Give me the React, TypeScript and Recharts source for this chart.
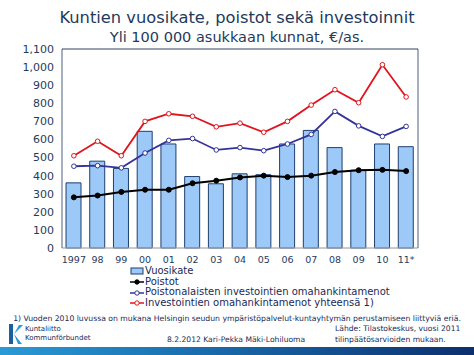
import {
  Bar,
  CartesianGrid,
  ComposedChart,
  Line,
  ReferenceLine,
  XAxis,
  YAxis,
} from "recharts";

const years = ["1997", "98", "99", "00", "01", "02", "03", "04", "05", "06", "07", "08", "09", "10", "11*"];
const vuosikate = [360, 480, 440, 645, 575, 395, 355, 410, 405, 575, 650, 555, 430, 575, 560];
const poistot = [280, 290, 310, 322, 322, 358, 372, 390, 400, 392, 400, 420, 430, 432, 425];
const poistonalaiset = [452, 455, 443, 525, 595, 605, 542, 555, 538, 575, 628, 755, 675, 617, 672];
const investoinnit = [510, 590, 510, 700, 742, 728, 670, 690, 640, 700, 790, 875, 803, 1013, 835];
const yTicks = [0, 100, 200, 300, 400, 500, 600, 700, 800, 900, 1000, 1100];

const data = years.map((year, i) => ({
  year,
  vuosikate: vuosikate[i],
  poistot: poistot[i],
  poistonalaiset: poistonalaiset[i],
  investoinnit: investoinnit[i],
}));

const FONT = '"DejaVu Sans", Verdana, sans-serif';
const NAVY = "#1f3a5c";
const TEXT = "#1a2a55";
const AXIS = "#4a5f80";
const BAR_FILL = "#9cc9f7";
const BAR_STROKE = "#1f3f6e";
const BLUE = "#333399";
const RED = "#e0141e";

function LegendRow({ kind, color, label }: { kind: "bar" | "dot" | "open"; color: string; label: string }) {
  return (
    <div style={{ display: "flex", alignItems: "center", height: 10.7 }}>
      <svg width={14} height={10} style={{ marginRight: 1 }}>
        {kind === "bar" ? (
          <rect x={1} y={2} width={12} height={6} fill={BAR_FILL} stroke={BAR_STROKE} />
        ) : (
          <>
            <line x1={0} x2={14} y1={5} y2={5} stroke={color} strokeWidth={1.5} />
            <circle cx={7} cy={5} r={2.2} fill={kind === "dot" ? color : "#fff"} stroke={color} />
          </>
        )}
      </svg>
      <span>{label}</span>
    </div>
  );
}

export default function App() {
  const tick = { fill: NAVY, fontSize: 11, fontFamily: FONT };
  return (
    <div
      style={{
        position: "absolute",
        left: 0,
        top: 0,
        width: 474,
        height: 355,
        background: "#fff",
        fontFamily: FONT,
        color: NAVY,
        overflow: "hidden",
      }}
    >
      <div style={{ position: "absolute", top: 8, width: 474, textAlign: "center", fontSize: 16.3, lineHeight: "19px" }}>
        Kuntien vuosikate, poistot sekä investoinnit
      </div>
      <div style={{ position: "absolute", top: 28, width: 474, textAlign: "center", fontSize: 14.5, lineHeight: "18px" }}>
        Yli 100 000 asukkaan kunnat, €/as.
      </div>

      <div style={{ position: "absolute", left: 0, top: 0 }}>
        <ComposedChart
          width={474}
          height={270}
          data={data}
          margin={{ top: 49, right: 0, left: 0, bottom: 0 }}
          barCategoryGap={0}
        >
          <CartesianGrid vertical={false} stroke="#c8c8c8" />
          <XAxis
            dataKey="year"
            height={22}
            tick={{ ...tick, fontSize: 9.5 }}
            tickLine={false}
            axisLine={{ stroke: "#b0b0b0" }}
            interval={0}
          />
          <YAxis
            yAxisId="left"
            width={62}
            domain={[0, 1100]}
            ticks={yTicks}
            tick={tick}
            tickLine={false}
            axisLine={{ stroke: AXIS }}
            tickFormatter={(v: number) => v.toLocaleString("en-US")}
          />
          <YAxis
            yAxisId="right"
            orientation="right"
            width={56}
            domain={[0, 1100]}
            ticks={yTicks}
            tick={tick}
            tickLine={false}
            axisLine={{ stroke: AXIS }}
          />
          <ReferenceLine yAxisId="left" y={1100} stroke={AXIS} />
          <Bar
            yAxisId="left"
            dataKey="vuosikate"
            fill={BAR_FILL}
            stroke={BAR_STROKE}
            strokeWidth={1}
            barSize={15}
            isAnimationActive={false}
          />
          <Line
            yAxisId="left"
            type="linear"
            dataKey="poistot"
            stroke="#000"
            strokeWidth={2}
            dot={{ r: 2.5, fill: "#000", stroke: "#000", strokeWidth: 1 }}
            isAnimationActive={false}
          />
          <Line
            yAxisId="left"
            type="linear"
            dataKey="poistonalaiset"
            stroke={BLUE}
            strokeWidth={1.8}
            dot={{ r: 2.3, fill: "#fff", stroke: BLUE, strokeWidth: 1 }}
            isAnimationActive={false}
          />
          <Line
            yAxisId="left"
            type="linear"
            dataKey="investoinnit"
            stroke={RED}
            strokeWidth={1.8}
            dot={{ r: 2.3, fill: "#fff", stroke: RED, strokeWidth: 1 }}
            isAnimationActive={false}
          />
        </ComposedChart>
      </div>

      <div style={{ position: "absolute", left: 130, top: 266, fontSize: 10, lineHeight: "10.7px", color: TEXT }}>
        <LegendRow kind="bar" color={BAR_STROKE} label="Vuosikate" />
        <LegendRow kind="dot" color="#000" label="Poistot" />
        <LegendRow kind="open" color={BLUE} label="Poistonalaisten investointien omahankintamenot" />
        <LegendRow kind="open" color={RED} label="Investointien omahankintamenot yhteensä 1)" />
      </div>

      <div style={{ position: "absolute", top: 314, width: 474, textAlign: "center", fontSize: 7.7, color: TEXT }}>
        1) Vuoden 2010 luvussa on mukana Helsingin seudun ympäristöpalvelut-kuntayhtymän perustamiseen liittyviä eriä.
      </div>

      <svg style={{ position: "absolute", left: 8, top: 323 }} width={16} height={22}>
        <path d="M1 1 L5 1 L5 21 L1 21 Z" fill="#1a5f9e" />
        <path d="M6 11 L15 2 L11 2 Z M6 11 L14 21 L10 21 Z" fill="#2a9ad6" />
      </svg>
      <div style={{ position: "absolute", left: 25, top: 325, fontSize: 7, lineHeight: "9px", color: TEXT }}>
        Kuntaliitto
        <br />
        Kommunförbundet
      </div>
      <div style={{ position: "absolute", left: 167, top: 335, fontSize: 7.6, color: TEXT }}>
        8.2.2012 Kari-Pekka Mäki-Lohiluoma
      </div>
      <div style={{ position: "absolute", left: 335, top: 324, fontSize: 7.6, lineHeight: "10.5px", color: TEXT }}>
        Lähde: Tilastokeskus, vuosi 2011
        <br />
        tilinpäätösarvioiden mukaan.
      </div>
      <div
        style={{
          position: "absolute",
          left: 0,
          top: 347,
          width: 474,
          height: 8,
          background: "linear-gradient(to right, #2a9ad6 0%, #1a6fb0 40%, #0c2f6e 100%)",
        }}
      />
    </div>
  );
}
